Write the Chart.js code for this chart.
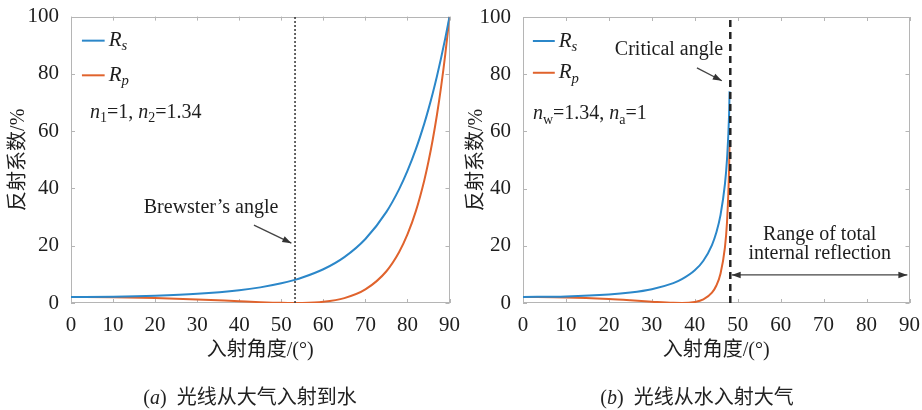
<!DOCTYPE html>
<html>
<head>
<meta charset="utf-8">
<script src="https://cdn.jsdelivr.net/npm/chart.js@4.4.0/dist/chart.umd.min.js"></script>
<style>
  body { margin: 0; background: #fff; width: 922px; height: 410px; position: relative; overflow: hidden; }
  canvas { position: absolute; top: 0; }
  #chartA { left: 0; }
  #chartB { left: 462px; }
  .cap { position: absolute; top: 385px; line-height: 24px; font-size: 20px; color: #222; white-space: nowrap;
         transform: translateX(-50%); font-family: "Liberation Serif", "Noto Sans CJK SC", serif; }
</style>
</head>
<body>
<canvas id="chartA" width="462" height="410"></canvas>
<canvas id="chartB" width="460" height="410"></canvas>
<div class="cap" style="left:250px">(<i>a</i>)&nbsp; 光线从大气入射到水</div>
<div class="cap" style="left:697px">(<i>b</i>)&nbsp; 光线从水入射大气</div>

<script>
// series names / colours
const seriesNames = ['Rs', 'Rp'];
const seriesColors = ['#2b87c9', '#e0632d'];

// (a) air -> water, angle in degrees, reflectance in %
const anglesA = [0, 10, 20, 30, 40, 45, 50, 53, 55, 60, 65, 70, 75, 78, 80, 82, 84, 85, 86, 87, 88, 89, 90];
const rsA = [2.11, 2.21, 2.54, 3.20, 4.45, 5.46, 6.87, 7.99, 8.88, 11.78, 16.03, 22.35, 31.82, 39.69, 46.12, 53.71, 62.64, 67.69, 73.16, 79.09, 85.52, 92.47, 100];
const rpA = [2.11, 2.01, 1.72, 1.24, 0.61, 0.30, 0.06, 0.0, 0.02, 0.42, 1.71, 4.73, 11.09, 17.71, 23.92, 32.08, 42.81, 49.38, 56.91, 65.55, 75.48, 86.89, 100];
const brewsterAngle = 53.27;

// (b) water -> air
const anglesB = [0, 10, 20, 25, 30, 35, 37, 40, 42, 44, 45, 46, 47, 47.5, 48, 48.1];
const rsB = [2.11, 2.29, 2.97, 3.66, 4.83, 6.95, 8.31, 11.42, 14.78, 20.27, 24.55, 30.83, 41.27, 50.14, 66.41, 74];
const rpB = [2.11, 1.94, 1.39, 0.97, 0.48, 0.05, 0.0, 0.35, 1.26, 3.61, 6.03, 10.33, 19.18, 28.13, 47.67, 57];
const criticalAngle = 48.27;

const xTitle = '入射角度/(°)';
const yTitle = '反射系数/%';

const FONT = '"Liberation Serif", "Noto Sans CJK SC", serif';
const TXT = '#1e1e1e';

function pts(xs, ys) {
  return xs.map((x, i) => ({ x: x, y: ys[i] }));
}

// draw text made of pieces (italic / subscript)
function drawRich(ctx, segs, x, y, size) {
  let cx = x;
  segs.forEach(s => {
    const fs = s.sub ? size * 0.7 : size;
    ctx.font = (s.it ? 'italic ' : '') + fs + 'px ' + FONT;
    ctx.fillText(s.t, cx, s.sub ? y + size * 0.28 : y);
    cx += ctx.measureText(s.t).width;
  });
}

function arrowHead(ctx, x1, y1, x2, y2) {
  const ang = Math.atan2(y2 - y1, x2 - x1);
  const L = 9, W = 3.2;
  ctx.beginPath();
  ctx.moveTo(x2, y2);
  ctx.lineTo(x2 - L * Math.cos(ang) + W * Math.sin(ang), y2 - L * Math.sin(ang) - W * Math.cos(ang));
  ctx.lineTo(x2 - L * Math.cos(ang) - W * Math.sin(ang), y2 - L * Math.sin(ang) + W * Math.cos(ang));
  ctx.closePath();
  ctx.fill();
}

function makeDecor(cfg) {
  return {
    id: 'decor',
    beforeDatasetsDraw(chart) {
      const { ctx, chartArea: a, scales: { x, y } } = chart;
      ctx.save();
      ctx.strokeStyle = '#b5b5b5';
      ctx.lineWidth = 1;
      ctx.strokeRect(Math.round(a.left) + 0.5, Math.round(a.top) + 0.5, Math.round(a.width) - 1, Math.round(a.height) - 1);
      ctx.beginPath();
      x.ticks.forEach(t => {
        const px = Math.round(x.getPixelForValue(t.value)) + 0.5;
        ctx.moveTo(px, a.bottom); ctx.lineTo(px, a.bottom - 4);
        ctx.moveTo(px, a.top); ctx.lineTo(px, a.top + 4);
      });
      y.ticks.forEach(t => {
        const py = Math.round(y.getPixelForValue(t.value)) + 0.5;
        ctx.moveTo(a.left, py); ctx.lineTo(a.left + 4, py);
        ctx.moveTo(a.right, py); ctx.lineTo(a.right - 4, py);
      });
      ctx.stroke();
      ctx.restore();
    },
    afterDatasetsDraw(chart) {
      const { ctx, scales: { x, y } } = chart;
      ctx.save();
      // legend
      seriesNames.forEach((name, i) => {
        const x1 = x.getPixelForValue(cfg.legendX[0]);
        const x2 = x.getPixelForValue(cfg.legendX[1]);
        const py = y.getPixelForValue(cfg.legendY[i]);
        ctx.strokeStyle = seriesColors[i];
        ctx.lineWidth = 2;
        ctx.beginPath(); ctx.moveTo(x1, py); ctx.lineTo(x2, py); ctx.stroke();
        ctx.fillStyle = TXT;
        ctx.textBaseline = 'middle';
        ctx.textAlign = 'left';
        drawRich(ctx, [{ t: name[0], it: true }, { t: name.slice(1), it: true, sub: true }], x2 + 4, py, 21);
      });
      // labels
      cfg.labels.forEach(l => {
        ctx.fillStyle = TXT;
        ctx.textBaseline = 'middle';
        ctx.textAlign = 'left';
        let px = x.getPixelForValue(l.x);
        if (l.center) {
          let w = 0;
          l.segs.forEach(s => { ctx.font = (s.it ? 'italic ' : '') + (s.sub ? 14 : 20) + 'px ' + FONT; w += ctx.measureText(s.t).width; });
          px -= w / 2;
        }
        drawRich(ctx, l.segs, px, y.getPixelForValue(l.y), 20);
      });
      // arrows
      cfg.arrows.forEach(ar => {
        const x1 = x.getPixelForValue(ar.from[0]), y1 = y.getPixelForValue(ar.from[1]);
        const x2 = x.getPixelForValue(ar.to[0]), y2 = y.getPixelForValue(ar.to[1]);
        ctx.strokeStyle = '#444';
        ctx.fillStyle = '#333';
        ctx.lineWidth = 1.3;
        ctx.beginPath(); ctx.moveTo(x1, y1); ctx.lineTo(x2, y2); ctx.stroke();
        arrowHead(ctx, x1, y1, x2, y2);
        if (ar.both) arrowHead(ctx, x2, y2, x1, y1);
      });
      ctx.restore();
    }
  };
}

function makeChart(id, angles, rs, rp, vline, vstyle, pad, yWidth, yTitlePad, decorCfg) {
  const tickFont = { family: FONT, size: 21 };
  const titleFont = { family: FONT, size: 20 };
  return new Chart(document.getElementById(id), {
    type: 'line',
    data: {
      datasets: [
        {
          data: [{ x: vline, y: 0 }, { x: vline, y: 100 }],
          borderColor: vstyle.color,
          borderWidth: vstyle.width,
          borderDash: vstyle.dash,
          pointRadius: 0
        },
        {
          label: seriesNames[0],
          data: pts(angles, rs),
          borderColor: seriesColors[0],
          borderWidth: 2,
          pointRadius: 0,
          cubicInterpolationMode: 'monotone'
        },
        {
          label: seriesNames[1],
          data: pts(angles, rp),
          borderColor: seriesColors[1],
          borderWidth: 2,
          pointRadius: 0,
          cubicInterpolationMode: 'monotone'
        }
      ]
    },
    options: {
      responsive: false,
      animation: false,
      layout: { padding: pad },
      plugins: { legend: { display: false }, tooltip: { enabled: false } },
      scales: {
        x: {
          type: 'linear',
          min: 0, max: 90,
          ticks: { stepSize: 10, font: tickFont, color: TXT, padding: 2, maxRotation: 0 },
          grid: { display: false },
          border: { display: false },
          title: { display: true, text: xTitle, font: titleFont, color: TXT, padding: { top: 0, bottom: 10 } },
          afterFit(s) { s.height = 70; }
        },
        y: {
          min: 0, max: 100,
          ticks: { stepSize: 20, font: tickFont, color: TXT, padding: 4 },
          grid: { display: false },
          border: { display: false },
          title: { display: true, text: yTitle, font: titleFont, color: TXT, padding: { top: yTitlePad, bottom: 0 } },
          afterFit(s) { s.width = yWidth; }
        }
      }
    },
    plugins: [makeDecor(decorCfg)]
  });
}

makeChart('chartA', anglesA, rsA, rpA, brewsterAngle,
  { color: '#333', width: 1.5, dash: [2, 2] },
  { left: 0, top: 16, right: 10, bottom: 37 }, 71, 7,
  {
    legendX: [2.6, 8.0], legendY: [91.6, 79.5],
    labels: [
      { x: 4.5, y: 66.5, segs: [{ t: 'n', it: true }, { t: '1', sub: true }, { t: '=1, ' }, { t: 'n', it: true }, { t: '2', sub: true }, { t: '=1.34' }] },
      { x: 33.3, y: 33.1, center: true, segs: [{ t: 'Brewster’s angle' }] }
    ],
    arrows: [{ from: [43.5, 27.2], to: [52.4, 20.9] }]
  });

makeChart('chartB', anglesB, rsB, rpB, criticalAngle,
  { color: '#222', width: 2.5, dash: [7, 5] },
  { left: 0, top: 17, right: 12, bottom: 37 }, 61, 3,
  {
    legendX: [2.3, 7.4], legendY: [91.6, 80.5],
    labels: [
      { x: 2.3, y: 66, segs: [{ t: 'n', it: true }, { t: 'w', sub: true }, { t: '=1.34, ' }, { t: 'n', it: true }, { t: 'a', sub: true }, { t: '=1' }] },
      { x: 34, y: 88.5, center: true, segs: [{ t: 'Critical angle' }] },
      { x: 69.1, y: 23.7, center: true, segs: [{ t: 'Range of total' }] },
      { x: 69.1, y: 17.1, center: true, segs: [{ t: 'internal reflection' }] }
    ],
    arrows: [
      { from: [40.5, 82.2], to: [46.3, 77.7] },
      { from: [48.6, 9.8], to: [89.5, 9.8], both: true }
    ]
  });
</script>
</body>
</html>
